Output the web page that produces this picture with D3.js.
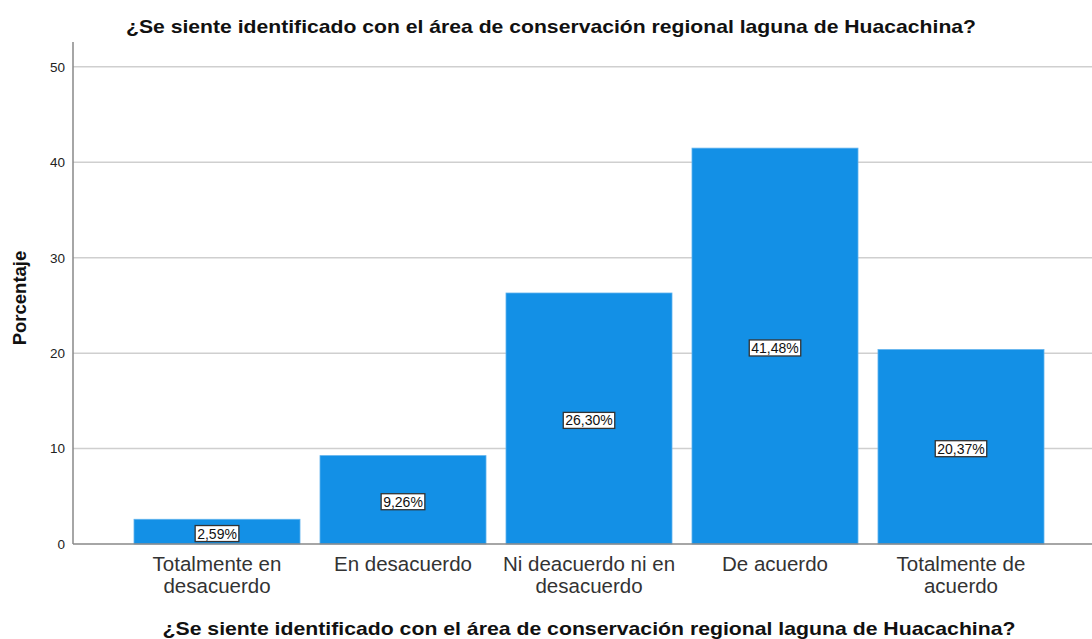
<!DOCTYPE html>
<html>
<head>
<meta charset="utf-8">
<script src="https://cdn.jsdelivr.net/npm/d3@7"></script>
<style>
  body { margin: 0; background: #fff; }
  text { font-family: "Liberation Sans", Arial, sans-serif; }
</style>
</head>
<body>
<div id="main"></div>
<script>
var categories = ['Totalmente en|desacuerdo', 'En desacuerdo', 'Ni deacuerdo ni en|desacuerdo', 'De acuerdo', 'Totalmente de|acuerdo'];
var values = [2.59, 9.26, 26.30, 41.48, 20.37];
var yTicks = [0, 10, 20, 30, 40, 50];
var title = '¿Se siente identificado con el área de conservación regional laguna de Huacachina?';

var width = 1092, height = 639;
var svg = d3.select('#main').append('svg')
    .attr('width', width).attr('height', height);

var x = d3.scaleBand()
    .domain(categories)
    .range([124, 1054])
    .paddingInner(0.1075)
    .paddingOuter(0.0538);

var y = d3.scaleLinear()
    .domain([0, 52.6])
    .range([544, 42]);

// grid lines
svg.append('g').selectAll('line')
    .data(yTicks.slice(1))
    .enter().append('line')
    .attr('x1', 73).attr('x2', width)
    .attr('y1', function(d) { return y(d); })
    .attr('y2', function(d) { return y(d); })
    .attr('stroke', '#cfcfcf').attr('stroke-width', 1.5);

// y axis
var yAxis = svg.append('g')
    .attr('transform', 'translate(73,0)')
    .call(d3.axisLeft(y).tickValues(yTicks).tickSize(0).tickPadding(8));
yAxis.select('.domain').remove();
yAxis.selectAll('text')
    .attr('font-size', 13.5).attr('fill', '#222')
    .attr('font-family', '"Liberation Sans", Arial, sans-serif');

// bars
svg.append('g').selectAll('rect')
    .data(values)
    .enter().append('rect')
    .attr('x', function(d, i) { return x(categories[i]); })
    .attr('y', function(d) { return y(d); })
    .attr('width', x.bandwidth())
    .attr('height', function(d) { return y(0) - y(d); })
    .attr('fill', '#1390e6')
    .attr('stroke', '#5fb2ee').attr('stroke-width', 0.8);

// axis lines
svg.append('line')
    .attr('x1', 73).attr('x2', 73).attr('y1', 42).attr('y2', 544)
    .attr('stroke', '#888').attr('stroke-width', 1.5);
svg.append('line')
    .attr('x1', 73).attr('x2', width).attr('y1', 544).attr('y2', 544)
    .attr('stroke', '#888').attr('stroke-width', 1.5);

// value labels
var lab = svg.append('g').selectAll('g')
    .data(values)
    .enter().append('g')
    .attr('transform', function(d, i) {
      return 'translate(' + (x(categories[i]) + x.bandwidth() / 2) + ',' + ((y(d) + y(0)) / 2 + 2) + ')';
    });
lab.append('text')
    .attr('text-anchor', 'middle')
    .attr('dy', '0.35em')
    .attr('font-size', 14)
    .attr('fill', '#111')
    .text(function(d) { return d.toFixed(2).replace('.', ',') + '%'; })
    .each(function() {
      var b = this.getBBox();
      d3.select(this.parentNode).insert('rect', 'text')
        .attr('x', b.x - 2).attr('y', b.y)
        .attr('width', b.width + 4).attr('height', b.height)
        .attr('fill', '#fff').attr('stroke', '#333').attr('stroke-width', 1.3);
    });

// x category labels
svg.append('g').selectAll('text')
    .data(categories)
    .enter().append('text')
    .attr('x', function(d) { return x(d) + x.bandwidth() / 2; })
    .attr('y', 571)
    .attr('text-anchor', 'middle')
    .attr('font-size', 20.5)
    .attr('fill', '#333')
    .each(function(d) {
      var t = d3.select(this);
      d.split('|').forEach(function(s, k) {
        t.append('tspan').attr('x', t.attr('x')).attr('dy', k ? 21.5 : 0).text(s);
      });
    });

// titles
svg.append('text')
    .attr('x', 551).attr('y', 33)
    .attr('text-anchor', 'middle')
    .attr('font-size', 19).attr('font-weight', 'bold').attr('fill', '#111')
    .attr('textLength', 850).attr('lengthAdjust', 'spacingAndGlyphs')
    .text(title);
svg.append('text')
    .attr('x', 589).attr('y', 635)
    .attr('text-anchor', 'middle')
    .attr('font-size', 19).attr('font-weight', 'bold').attr('fill', '#111')
    .attr('textLength', 853).attr('lengthAdjust', 'spacingAndGlyphs')
    .text(title);
svg.append('text')
    .attr('transform', 'translate(26,298) rotate(-90)')
    .attr('text-anchor', 'middle')
    .attr('font-size', 18.5).attr('font-weight', 'bold').attr('fill', '#111')
    .text('Porcentaje');
</script>
</body>
</html>
